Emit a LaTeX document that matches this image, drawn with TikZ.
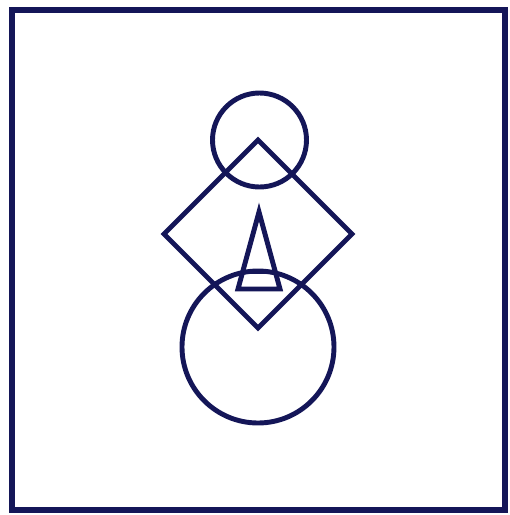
\documentclass[tikz,border=0pt]{standalone}
\usepackage{tikz}
\usepackage{xcolor}
\definecolor{ink}{RGB}{20,22,88}

\begin{document}
\begin{tikzpicture}[x=0.02cm,y=-0.02cm,line width=2.8pt]
\useasboundingbox (0,0) rectangle (510,515);
\fill[white] (0,0) rectangle (510,515);
\draw[ink,line width=3pt] (12,10) rectangle (505,510);
\draw[ink] (259.5,140) circle (47);
\draw[ink] (258,140) -- (352,234) -- (258,328) -- (164,234) -- cycle;
\draw[ink] (258,347) circle (76);
\draw[ink] (259,212) -- (280,289) -- (238,289) -- cycle;
\draw[ink] (243,272) -- (275,272);
\end{tikzpicture}
\end{document}
